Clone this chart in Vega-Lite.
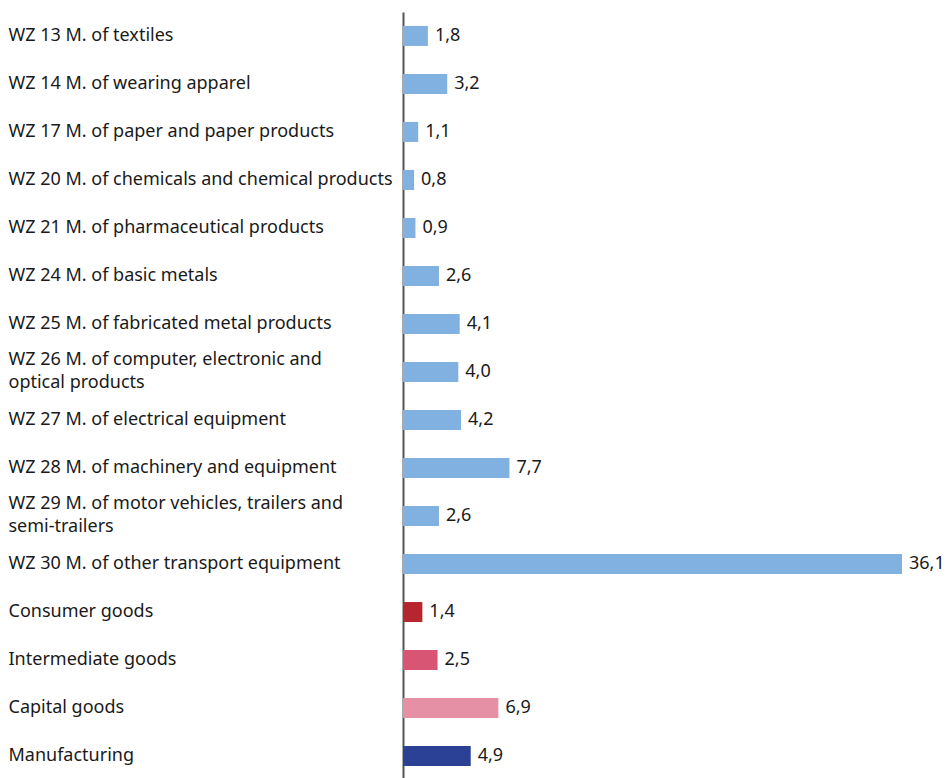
{
  "$schema": "https://vega.github.io/schema/vega-lite/v6.json",
  "autosize": "none",
  "width": 499,
  "height": 768,
  "padding": {"left": 403, "top": 12, "right": 47, "bottom": 0},
  "background": "white",
  "config": {
    "view": {"stroke": null},
    "locale": {"number": {"decimal": ",", "thousands": ".", "grouping": [3], "currency": ["", " €"]}},
    "font": "Noto Sans"
  },
  "data": {
    "values": [
      {"label": "WZ 13 M. of textiles", "value": 1.8, "group": "Industry"},
      {"label": "WZ 14 M. of wearing apparel", "value": 3.2, "group": "Industry"},
      {"label": "WZ 17 M. of paper and paper products", "value": 1.1, "group": "Industry"},
      {"label": "WZ 20 M. of chemicals and chemical products", "value": 0.8, "group": "Industry"},
      {"label": "WZ 21 M. of pharmaceutical products", "value": 0.9, "group": "Industry"},
      {"label": "WZ 24 M. of basic metals", "value": 2.6, "group": "Industry"},
      {"label": "WZ 25 M. of fabricated metal products", "value": 4.1, "group": "Industry"},
      {"label": "WZ 26 M. of computer, electronic and|optical products", "value": 4.0, "group": "Industry"},
      {"label": "WZ 27 M. of electrical equipment", "value": 4.2, "group": "Industry"},
      {"label": "WZ 28 M. of machinery and equipment", "value": 7.7, "group": "Industry"},
      {"label": "WZ 29 M. of motor vehicles, trailers and|semi-trailers", "value": 2.6, "group": "Industry"},
      {"label": "WZ 30 M. of other transport equipment", "value": 36.1, "group": "Industry"},
      {"label": "Consumer goods", "value": 1.4, "group": "Consumer"},
      {"label": "Intermediate goods", "value": 2.5, "group": "Intermediate"},
      {"label": "Capital goods", "value": 6.9, "group": "Capital"},
      {"label": "Manufacturing", "value": 4.9, "group": "Manufacturing"}
    ]
  },
  "encoding": {
    "y": {
      "field": "label",
      "type": "nominal",
      "sort": null,
      "scale": {"paddingInner": 0.583, "paddingOuter": 0.29},
      "axis": {
        "title": null,
        "ticks": false,
        "domainColor": "#555555",
        "domainWidth": 2,
        "labelAlign": "left",
        "labelPadding": 395,
        "labelFontSize": 18,
        "labelColor": "#1a1a1a",
        "labelLimit": 0,
        "labelLineHeight": 23,
        "labelOffset": {"condition": {"test": "indexof(datum.value, '|') >= 0", "value": -12}, "value": 0},
        "labelExpr": "split(datum.value, '|')"
      }
    },
    "x": {
      "field": "value",
      "type": "quantitative",
      "scale": {"domain": [0, 36.1], "nice": false, "zero": true},
      "axis": null
    }
  },
  "layer": [
    {
      "mark": {"type": "bar"},
      "encoding": {
        "color": {
          "field": "group",
          "type": "nominal",
          "scale": {
            "domain": ["Industry", "Consumer", "Intermediate", "Capital", "Manufacturing"],
            "range": ["#80b1e0", "#b5262f", "#d85673", "#e690a5", "#2a4196"]
          },
          "legend": null
        }
      }
    },
    {
      "mark": {"type": "text", "align": "left", "baseline": "middle", "dx": 7, "fontSize": 18, "color": "#1a1a1a"},
      "encoding": {
        "text": {"field": "value", "type": "quantitative", "format": ".1f"}
      }
    }
  ]
}
